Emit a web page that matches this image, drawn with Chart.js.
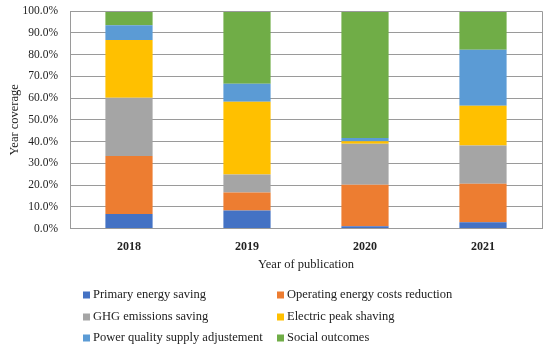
<!DOCTYPE html>
<html>
<head>
<meta charset="utf-8">
<script src="https://cdn.jsdelivr.net/npm/chart.js@4"></script>
<style>
  html, body { margin: 0; padding: 0; background: #fff; }
  #wrap { width: 550px; height: 351px; }
</style>
</head>
<body>
<div id="wrap"><canvas id="grafico"></canvas></div>
<script>
const anos = ['2018', '2019', '2020', '2021'];

const primaria = [6.7, 8.3, 1.1, 2.9];
const custos = [26.7, 8.3, 19.0, 17.7];
const ghg = [26.7, 8.3, 18.9, 17.6];
const pico = [26.6, 33.4, 1.1, 18.2];
const qualidade = [6.7, 8.3, 1.5, 25.8];
const social = [6.6, 33.4, 58.4, 17.8];

const fonte = '"Liberation Serif", "DejaVu Serif", serif';

// legenda em duas colunas, desenhada por baixo do grafico
const legendaGrade = {
  id: 'legendaGrade',
  afterDraw(chart) {
    const ctx = chart.ctx;
    const area = chart.chartArea;
    ctx.save();
    // moldura do plot
    ctx.strokeStyle = '#9a9a9a';
    ctx.lineWidth = 1;
    ctx.beginPath();
    ctx.moveTo(area.left, area.top + 0.5);
    ctx.lineTo(area.right + 0.5, area.top + 0.5);
    ctx.lineTo(area.right + 0.5, area.bottom);
    ctx.stroke();

    ctx.font = '12.5px ' + fonte;
    ctx.textBaseline = 'middle';
    ctx.textAlign = 'left';
    const colunas = [83, 277];
    const linhas = [295, 317, 338];
    chart.data.datasets.forEach((ds, i) => {
      const x = colunas[i % 2];
      const y = linhas[Math.floor(i / 2)];
      ctx.fillStyle = ds.backgroundColor;
      ctx.fillRect(x, y - 3.5, 7, 7);
      ctx.fillStyle = '#222';
      ctx.fillText(ds.label, x + 10, y);
    });
    ctx.restore();
  }
};

new Chart(document.getElementById('grafico'), {
  type: 'bar',
  data: {
    labels: anos,
    datasets: [
      { label: 'Primary energy saving', data: primaria, backgroundColor: '#4472C4' },
      { label: 'Operating energy costs reduction', data: custos, backgroundColor: '#ED7D31' },
      { label: 'GHG emissions saving', data: ghg, backgroundColor: '#A5A5A5' },
      { label: 'Electric peak shaving', data: pico, backgroundColor: '#FFC000' },
      { label: 'Power quality supply adjustement', data: qualidade, backgroundColor: '#5B9BD5' },
      { label: 'Social outcomes', data: social, backgroundColor: '#70AD47' }
    ]
  },
  options: {
    responsive: true,
    maintainAspectRatio: false,
    animation: false,
    layout: { padding: { left: 7, right: 8, top: 11, bottom: 79 } },
    datasets: { bar: { categoryPercentage: 1, barPercentage: 0.4 } },
    plugins: {
      legend: { display: false },
      tooltip: { enabled: false }
    },
    scales: {
      x: {
        stacked: true,
        grid: { display: false },
        border: { color: '#9a9a9a' },
        ticks: { color: '#222', font: { family: fonte, size: 12, weight: 'bold' }, padding: 3 },
        title: { display: true, text: 'Year of publication', color: '#222', font: { family: fonte, size: 12.5 }, padding: { top: 0, bottom: 0 } }
      },
      y: {
        stacked: true,
        min: 0,
        max: 100,
        border: { color: '#9a9a9a' },
        grid: { color: '#9a9a9a', drawTicks: true, tickLength: 0 },
        afterFit: scale => { scale.width = 63; scale.paddingTop = 0; },
        ticks: {
          stepSize: 10,
          color: '#222',
          padding: 12,
          font: { family: fonte, size: 11.5 },
          callback: v => v.toFixed(1) + '%'
        },
        title: { display: true, text: 'Year coverage', color: '#222', font: { family: fonte, size: 12.5 }, padding: { top: 0, bottom: 0 } }
      }
    }
  },
  plugins: [legendaGrade]
});
</script>
</body>
</html>
